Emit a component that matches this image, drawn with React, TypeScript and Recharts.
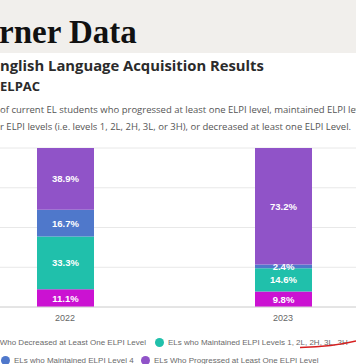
import React from 'react';
import { BarChart, Bar, XAxis, YAxis, CartesianGrid, LabelList } from 'recharts';

const years = ['2022', '2023'];
const decreased = [11.1, 9.8];
const maintainedLow = [33.3, 14.6];
const maintainedL4 = [16.7, 2.4];
const progressed = [38.9, 73.2];
const yTicks = [0, 25, 50, 75, 100];

const seriesNames = [
  'ELs Who Decreased at Least One ELPI Level',
  'ELs who Maintained ELPI Levels 1, 2L, 2H, 3L, 3H',
  'ELs who Maintained ELPI Level 4',
  'ELs Who Progressed at Least One ELPI Level',
];
const seriesKeys = ['decreased', 'maintainedLow', 'maintainedL4', 'progressed'];
const seriesColors = ['#cb12d2', '#20c0ab', '#4f78cb', '#9053c8'];

const data = years.map((y, i) => ({
  year: y,
  decreased: decreased[i],
  maintainedLow: maintainedLow[i],
  maintainedL4: maintainedL4[i],
  progressed: progressed[i],
}));

const fmt = (v: any) => `${Number(v).toFixed(1)}%`;

const LegendItem = ({ idx, style }: { idx: number; style: React.CSSProperties }) => (
  <div style={{ position: 'absolute', display: 'flex', alignItems: 'center', whiteSpace: 'nowrap', ...style }}>
    <span style={{ width: 9, height: 9, borderRadius: 5, background: seriesColors[idx], display: 'inline-block', marginRight: 4 }} />
    <span>{seriesNames[idx]}</span>
  </div>
);

export default function App() {
  return (
    <div style={{ position: 'absolute', left: 0, top: 0, width: 356, height: 364, overflow: 'hidden', background: '#fff' }}>
      <div style={{ position: 'absolute', left: 0, top: 0, width: 356, height: 53, background: '#f1efec' }} />
      <div style={{ position: 'absolute', left: -1, top: 14, fontFamily: '"Liberation Serif", serif', fontWeight: 700, fontSize: 33, lineHeight: '36px', color: '#111', whiteSpace: 'nowrap' }}>
        rner Data
      </div>
      <div style={{ position: 'absolute', left: 0, top: 55, fontFamily: '"Open Sans", sans-serif', fontWeight: 700, fontSize: 14.8, lineHeight: '20px', color: '#2b2b2b', whiteSpace: 'nowrap' }}>
        nglish Language Acquisition Results
      </div>
      <div style={{ position: 'absolute', left: 0, top: 78, fontFamily: '"Open Sans", sans-serif', fontWeight: 700, fontSize: 13, lineHeight: '16px', color: '#2b2b2b', whiteSpace: 'nowrap' }}>
        ELPAC
      </div>
      <div style={{ position: 'absolute', left: 0, top: 101, fontFamily: '"Open Sans", sans-serif', fontSize: 9.5, lineHeight: '17px', color: '#555', whiteSpace: 'nowrap' }}>
        <div>of current EL students who progressed at least one ELPI level, maintained ELPI levels</div>
        <div>r ELPI levels (i.e. levels 1, 2L, 2H, 3L, or 3H), or decreased at least one ELPI Level.</div>
      </div>

      <div style={{ position: 'absolute', left: -44, top: 143 }}>
        <BarChart width={436} height={194} data={data} margin={{ top: 5, right: 0, left: 0, bottom: 0 }} barSize={57}>
          <CartesianGrid vertical={false} stroke="#e8e8e8" />
          <YAxis hide domain={[0, 100]} ticks={yTicks} />
          <XAxis dataKey="year" tickLine={false} axisLine={{ stroke: '#d6d6d6' }} tick={{ fill: '#666', fontSize: 9, fontFamily: '"Liberation Sans", Arial, sans-serif' }} height={30} />
          {seriesKeys.map((k, i) => (
            <Bar key={k} dataKey={k} stackId="a" fill={seriesColors[i]} isAnimationActive={false}>
              <LabelList dataKey={k} position="center" formatter={fmt} fill="#fff" style={{ fontSize: 9.5, fontWeight: 700, fontFamily: '"Liberation Sans", Arial, sans-serif' }} />
            </Bar>
          ))}
        </BarChart>
      </div>

      <div style={{ position: 'absolute', left: 0, top: 0, width: 356, height: 364, fontFamily: '"Liberation Sans", Arial, sans-serif', fontSize: 8, color: '#6a6a6a', lineHeight: '11px' }}>
        <LegendItem idx={0} style={{ right: 210, top: 337 }} />
        <LegendItem idx={1} style={{ left: 155, top: 337 }} />
        <LegendItem idx={2} style={{ left: 1, top: 355 }} />
        <LegendItem idx={3} style={{ left: 141, top: 355 }} />
      </div>
      <svg style={{ position: 'absolute', left: 0, top: 0 }} width={356} height={364}>
        <path d="M300 347.5 C 320 347, 340 345, 356 341" stroke="#d62020" strokeWidth={1.3} fill="none" />
      </svg>
    </div>
  );
}
